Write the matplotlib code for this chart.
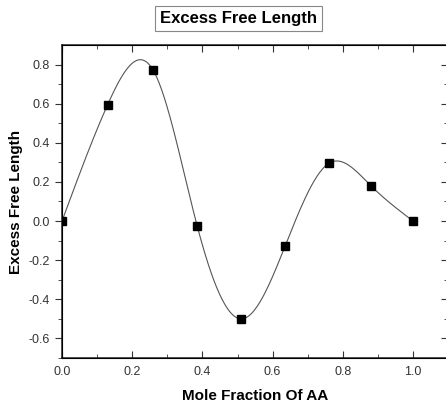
import matplotlib.pyplot as plt
import numpy as np

plt.rcParams['font.family'] = ['Liberation Sans', 'DejaVu Sans']

# mole fraction of AA and excess free length
mole_fraction = [0.0, 0.13, 0.26, 0.385, 0.51, 0.635, 0.76, 0.88, 1.0]
excess_free_length = [0.0, 0.595, 0.77, -0.025, -0.50, -0.13, 0.295, 0.18, 0.0]


# natural cubic spline to draw the smooth connecting curve
def spline_curve(x, y, n=400):
    x = np.asarray(x, float)
    y = np.asarray(y, float)
    k = len(x)
    h = np.diff(x)
    A = np.zeros((k, k))
    b = np.zeros(k)
    A[0, 0] = 1
    A[-1, -1] = 1
    for i in range(1, k - 1):
        A[i, i - 1] = h[i - 1]
        A[i, i] = 2 * (h[i - 1] + h[i])
        A[i, i + 1] = h[i]
        b[i] = 3 * ((y[i + 1] - y[i]) / h[i] - (y[i] - y[i - 1]) / h[i - 1])
    c = np.linalg.solve(A, b)
    xs = np.linspace(x[0], x[-1], n)
    idx = np.clip(np.searchsorted(x, xs) - 1, 0, k - 2)
    dx = xs - x[idx]
    hi = h[idx]
    bb = (y[idx + 1] - y[idx]) / hi - hi * (2 * c[idx] + c[idx + 1]) / 3
    dd = (c[idx + 1] - c[idx]) / (3 * hi)
    ys = y[idx] + bb * dx + c[idx] * dx ** 2 + dd * dx ** 3
    return xs, ys


fig = plt.figure(figsize=(4.46, 4.05), dpi=100)
ax = fig.add_axes([0.139, 0.116, 0.866, 0.773])

xs, ys = spline_curve(mole_fraction, excess_free_length)
ax.plot(xs, ys, color='#555555', lw=0.8)
ax.plot(mole_fraction, excess_free_length, 's', color='black', markersize=5.5)

ax.set_xlim(0, 1.1)
ax.set_ylim(-0.7, 0.9)
ax.set_xticks([0.0, 0.2, 0.4, 0.6, 0.8, 1.0])
ax.set_xticks(np.arange(0.1, 1.1, 0.2), minor=True)
ax.set_yticks([-0.6, -0.4, -0.2, 0.0, 0.2, 0.4, 0.6, 0.8])
ax.set_yticks(np.arange(-0.7, 0.9, 0.2), minor=True)
ax.xaxis.set_major_formatter(plt.FormatStrFormatter('%.1f'))
ax.yaxis.set_major_formatter(plt.FormatStrFormatter('%.1f'))

for s in ax.spines.values():
    s.set_linewidth(1.1)
    s.set_color('#222222')

ax.tick_params(axis='x', which='both', direction='in', top=True, labelsize=9,
               colors='#333333', pad=6)
ax.tick_params(axis='x', which='major', length=5)
ax.tick_params(axis='x', which='minor', length=3)
ax.tick_params(axis='y', which='both', direction='out', labelsize=9,
               colors='#333333')
ax.tick_params(axis='y', which='major', length=5)
ax.tick_params(axis='y', which='minor', length=3)

# right axis ticks point inward
ax2 = ax.twinx()
ax2.set_ylim(ax.get_ylim())
ax2.set_yticks(ax.get_yticks())
ax2.set_yticks(np.arange(-0.7, 0.9, 0.2), minor=True)
ax2.tick_params(axis='y', which='both', direction='in', labelright=False,
                colors='#333333')
ax2.tick_params(axis='y', which='major', length=5)
ax2.tick_params(axis='y', which='minor', length=3)

ax.set_xlabel('Mole Fraction Of AA', fontsize=11, fontweight='bold', labelpad=8)
ax.set_ylabel('Excess Free Length', fontsize=11, fontweight='bold', labelpad=4)

fig.text(0.534, 0.955, 'Excess Free Length', ha='center', va='center',
         fontsize=12, fontweight='bold',
         bbox=dict(boxstyle='square,pad=0.3', fc='white', ec='#888888', lw=0.8))

plt.savefig('out.png', dpi=100)
